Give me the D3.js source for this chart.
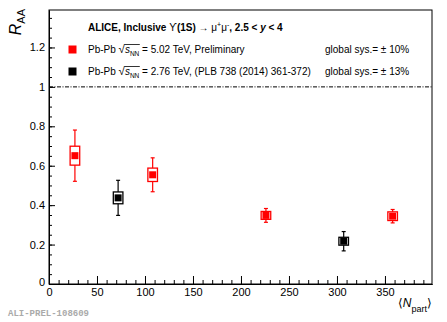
<!DOCTYPE html>
<html>
<head>
<meta charset="utf-8">
<script src="https://cdn.jsdelivr.net/npm/d3@7"></script>
<style>
body { margin: 0; background: #fff; }
svg { display: block; font-family: "Liberation Sans", Arial, sans-serif; }
.axis text { font-size: 11px; fill: #000; }
.axis path, .axis line { stroke: #000; }
</style>
</head>
<body>
<div id="main"></div>
<script>
// 5.02 TeV, preliminary
const nPart502 = [27, 108, 226, 358]
const raa502 = [0.651, 0.554, 0.348, 0.344]
const stat502 = [0.13, 0.086, 0.035, 0.034]
const sys502 = [0.048, 0.034, 0.02, 0.022]
// 2.76 TeV, PLB 738
const nPart276 = [72, 307]
const raa276 = [0.437, 0.217]
const stat276 = [0.089, 0.049]
const sys276 = [0.03, 0.02]

const xTicks = [0, 50, 100, 150, 200, 250, 300, 350]
const yTicks = [0, 0.2, 0.4, 0.6, 0.8, 1, 1.2]

let width = 447,
    height = 322,
    margin = {left: 49, top: 10, right: 15, bottom: 38}

const svg = d3.select("div#main")
    .append("svg")
    .attr("width", width)
    .attr("height", height)

const x = d3.scaleLinear().domain([0, 399]).range([margin.left, width - margin.right])
const y = d3.scaleLinear().domain([0, 1.39]).range([height - margin.bottom, margin.top])

// minor ticks
svg.append("g").attr("class", "axis")
    .attr("transform", `translate(0,${y(0)})`)
    .call(d3.axisBottom(x).tickValues(d3.range(0, 400, 10)).tickSize(-4).tickSizeOuter(0).tickFormat(""))
svg.append("g").attr("class", "axis")
    .attr("transform", `translate(${x(0)},0)`)
    .call(d3.axisLeft(y).tickValues(d3.range(0, 1.39, 0.05)).tickSize(-3).tickSizeOuter(0).tickFormat(""))

// major ticks
svg.append("g").attr("class", "axis")
    .attr("transform", `translate(0,${y(0)})`)
    .call(d3.axisBottom(x).tickValues(xTicks).tickSize(-8).tickSizeOuter(0).tickPadding(4).tickFormat(d3.format("d")))
svg.append("g").attr("class", "axis")
    .attr("transform", `translate(${x(0)},0)`)
    .call(d3.axisLeft(y).tickValues(yTicks).tickSize(-6).tickSizeOuter(0).tickPadding(4).tickFormat(d => d == 0 || d == 1 ? d : d3.format(".1f")(d)))

// y=0 label sits a bit higher in the original
svg.selectAll(".axis text").filter(function () { return this.textContent == "0" && this.getAttribute("x") < 0 })
    .attr("dy", "0.1em")

svg.append("rect")
    .attr("x", x(0)).attr("y", y(1.39))
    .attr("width", x(399) - x(0)).attr("height", y(0) - y(1.39))
    .attr("fill", "none").attr("stroke", "#000")

// reference line at 1
svg.append("line")
    .attr("x1", x(0)).attr("x2", x(399))
    .attr("y1", y(1)).attr("y2", y(1))
    .attr("stroke", "#000").attr("stroke-dasharray", "4,1.5,1,1.5")

function drawSeries(nPart, raa, stat, sys, color) {
    let pts = nPart.map((n, i) => ({n: n, r: raa[i], st: stat[i], sy: sys[i]}))
    let g = svg.append("g")
    g.selectAll(".stat").data(pts).join("line")
        .attr("x1", d => x(d.n)).attr("x2", d => x(d.n))
        .attr("y1", d => y(d.r - d.st)).attr("y2", d => y(d.r + d.st))
        .attr("stroke", color).attr("stroke-width", 1.2)
    g.selectAll(".capHi").data(pts).join("line")
        .attr("x1", d => x(d.n) - 2).attr("x2", d => x(d.n) + 2)
        .attr("y1", d => y(d.r + d.st)).attr("y2", d => y(d.r + d.st))
        .attr("stroke", color).attr("stroke-width", 1.2)
    g.selectAll(".capLo").data(pts).join("line")
        .attr("x1", d => x(d.n) - 2).attr("x2", d => x(d.n) + 2)
        .attr("y1", d => y(d.r - d.st)).attr("y2", d => y(d.r - d.st))
        .attr("stroke", color).attr("stroke-width", 1.2)
    g.selectAll(".sys").data(pts).join("rect")
        .attr("x", d => x(d.n - 5)).attr("width", d => x(d.n + 5) - x(d.n - 5))
        .attr("y", d => y(d.r + d.sy)).attr("height", d => y(d.r - d.sy) - y(d.r + d.sy))
        .attr("fill", "#fff").attr("stroke", color).attr("stroke-width", 1.3)
    g.selectAll(".marker").data(pts).join("rect")
        .attr("x", d => x(d.n) - 3.5).attr("y", d => y(d.r) - 3.5)
        .attr("width", 7).attr("height", 7)
        .attr("fill", color)
}

drawSeries(nPart502, raa502, stat502, sys502, "#ff0000")
drawSeries(nPart276, raa276, stat276, sys276, "#000000")

// legend
const legend = svg.append("g").attr("font-size", "10px")
legend.append("text")
    .attr("x", 88).attr("y", 31)
    .attr("font-weight", "bold")
    .html('ALICE, Inclusive <tspan font-weight="normal">ϒ</tspan>(1S) <tspan font-weight="normal">→ μ<tspan dy="-4" font-size="7px">+</tspan><tspan dy="4">μ</tspan><tspan dy="-4" font-size="7px">-</tspan></tspan><tspan dy="4">, 2.5 &lt; </tspan><tspan font-style="italic">y</tspan> &lt; 4')

const legendRows = [
    {color: "#ff0000", energy: "5.02", note: "Preliminary", sys: "10%", y: 53},
    {color: "#000000", energy: "2.76", note: "(PLB 738 (2014) 361-372)", sys: "13%", y: 75}
]

legendRows.forEach(r => {
    legend.append("rect")
        .attr("x", 68.5).attr("y", r.y - 7.5).attr("width", 8).attr("height", 8)
        .attr("fill", r.color)
    let t = legend.append("text").attr("x", 88).attr("y", r.y)
    t.append("tspan").text("Pb-Pb ")
    t.append("tspan").attr("font-size", "11.5px").text("√")
    t.append("tspan").attr("font-style", "italic").text("s")
    t.append("tspan").attr("font-size", "6.5px").attr("dy", 2.5).text("NN")
    t.append("tspan").attr("dy", -2.5).text(` = ${r.energy} TeV, ${r.note}`)
    // overline of the radical
    let node = t.node()
    let rad = node.getExtentOfChar(6)
    let nn = node.getExtentOfChar(9)
    legend.append("line")
        .attr("x1", rad.x + rad.width - 0.5).attr("x2", nn.x + nn.width + 0.5)
        .attr("y1", rad.y + 1.5).attr("y2", rad.y + 1.5)
        .attr("stroke", "#000").attr("stroke-width", 0.8)
    legend.append("text").attr("x", 325).attr("y", r.y)
        .text(`global sys.= ± ${r.sys}`)
})

// axis titles
svg.append("text")
    .attr("transform", "translate(21,9) rotate(-90)")
    .attr("text-anchor", "end")
    .html('<tspan font-style="italic" font-size="16px">R</tspan><tspan font-size="11px" dy="4">AA</tspan>')

svg.append("text")
    .attr("x", 432).attr("y", 307)
    .attr("text-anchor", "end")
    .attr("font-size", "12px")
    .html('⟨<tspan font-style="italic">N</tspan><tspan font-size="9px" dy="5">part</tspan><tspan dy="-5">⟩</tspan>')

svg.append("text")
    .attr("x", 8).attr("y", 316)
    .attr("font-family", "'Liberation Mono', monospace")
    .attr("font-weight", "bold")
    .attr("font-size", "9px")
    .attr("fill", "#aaa")
    .text("ALI-PREL-108609")
</script>
</body>
</html>
